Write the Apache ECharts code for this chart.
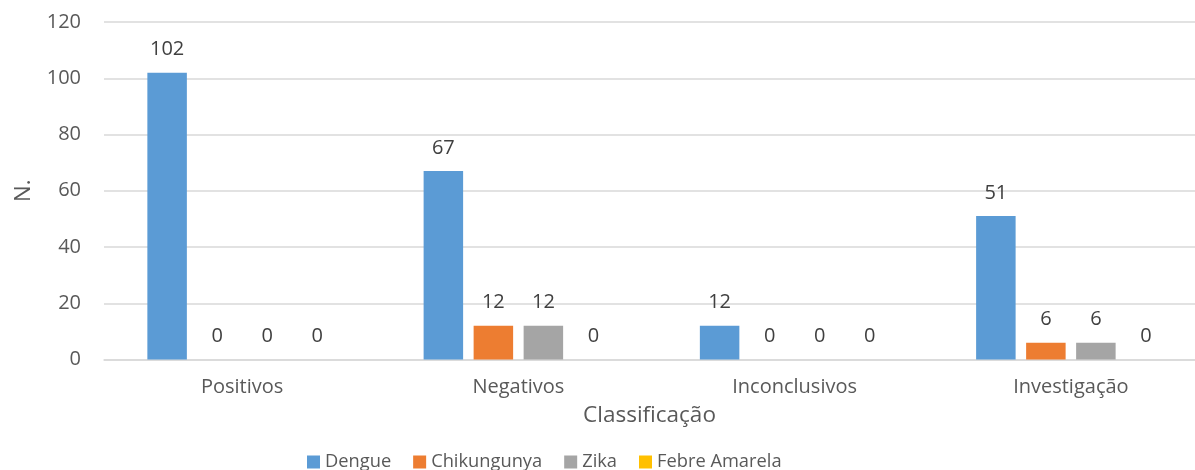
<!DOCTYPE html>
<html><head><meta charset="utf-8">
<script src="https://cdn.jsdelivr.net/npm/echarts@6/dist/echarts.min.js"></script>
<style>html,body{margin:0;padding:0;background:#fff;overflow:hidden;width:1195px;height:470px}#c{width:1209px;height:470px}</style>
</head><body><div id="c"></div>
<script>
const categories = ['Positivos', 'Negativos', 'Inconclusivos', 'Investigação'];
const seriesNames = ['Dengue', 'Chikungunya', 'Zika', 'Febre Amarela'];
const dengue = [102, 67, 12, 51];
const chikungunya = [0, 12, 0, 6];
const zika = [0, 12, 0, 6];
const febreAmarela = [0, 0, 0, 0];
const yTicks = [0, 20, 40, 60, 80, 100, 120];
const colors = ['#5B9BD5', '#ED7D31', '#A5A5A5', '#FFC000'];
const values = [dengue, chikungunya, zika, febreAmarela];
const font = 'Open Sans, Noto Sans, sans-serif';
const chart = echarts.init(document.getElementById('c'));
chart.setOption({
  animation: false,
  textStyle: { fontFamily: font },
  grid: { left: 104, top: 22, right: 0, height: 337.5, containLabel: false },
  legend: {
    data: seriesNames, left: 302, top: 448, itemWidth: 13, itemHeight: 13, itemGap: 22,
    icon: 'rect', textStyle: { fontSize: 18.3, color: '#595959', fontFamily: font }
  },
  xAxis: {
    type: 'category', data: categories,
    name: 'Classificação', nameLocation: 'middle', nameGap: 45,
    nameTextStyle: { fontSize: 22.5, color: '#595959', padding: [0, 14, 0, 0] },
    axisLine: { lineStyle: { color: '#D9D9D9', width: 1.5 } },
    axisTick: { show: false },
    axisLabel: { fontSize: 20, color: '#595959', margin: 18 }
  },
  yAxis: {
    type: 'value', min: 0, max: 120, interval: 20,
    name: 'N.', nameLocation: 'middle', nameGap: 69, nameRotate: 90,
    nameTextStyle: { fontSize: 22, color: '#595959' },
    axisLine: { show: false }, axisTick: { show: false },
    axisLabel: { fontSize: 20, color: '#595959', margin: 23 },
    splitLine: { lineStyle: { color: '#D9D9D9', width: 1.5 } }
  },
  series: seriesNames.map((n, i) => ({
    name: n, type: 'bar', data: values[i], barWidth: 39.5, barGap: '26.6%',
    itemStyle: { color: colors[i] },
    label: { show: true, position: 'top', distance: 13, fontSize: 20, color: '#404040', fontFamily: font }
  }))
});
</script></body></html>
